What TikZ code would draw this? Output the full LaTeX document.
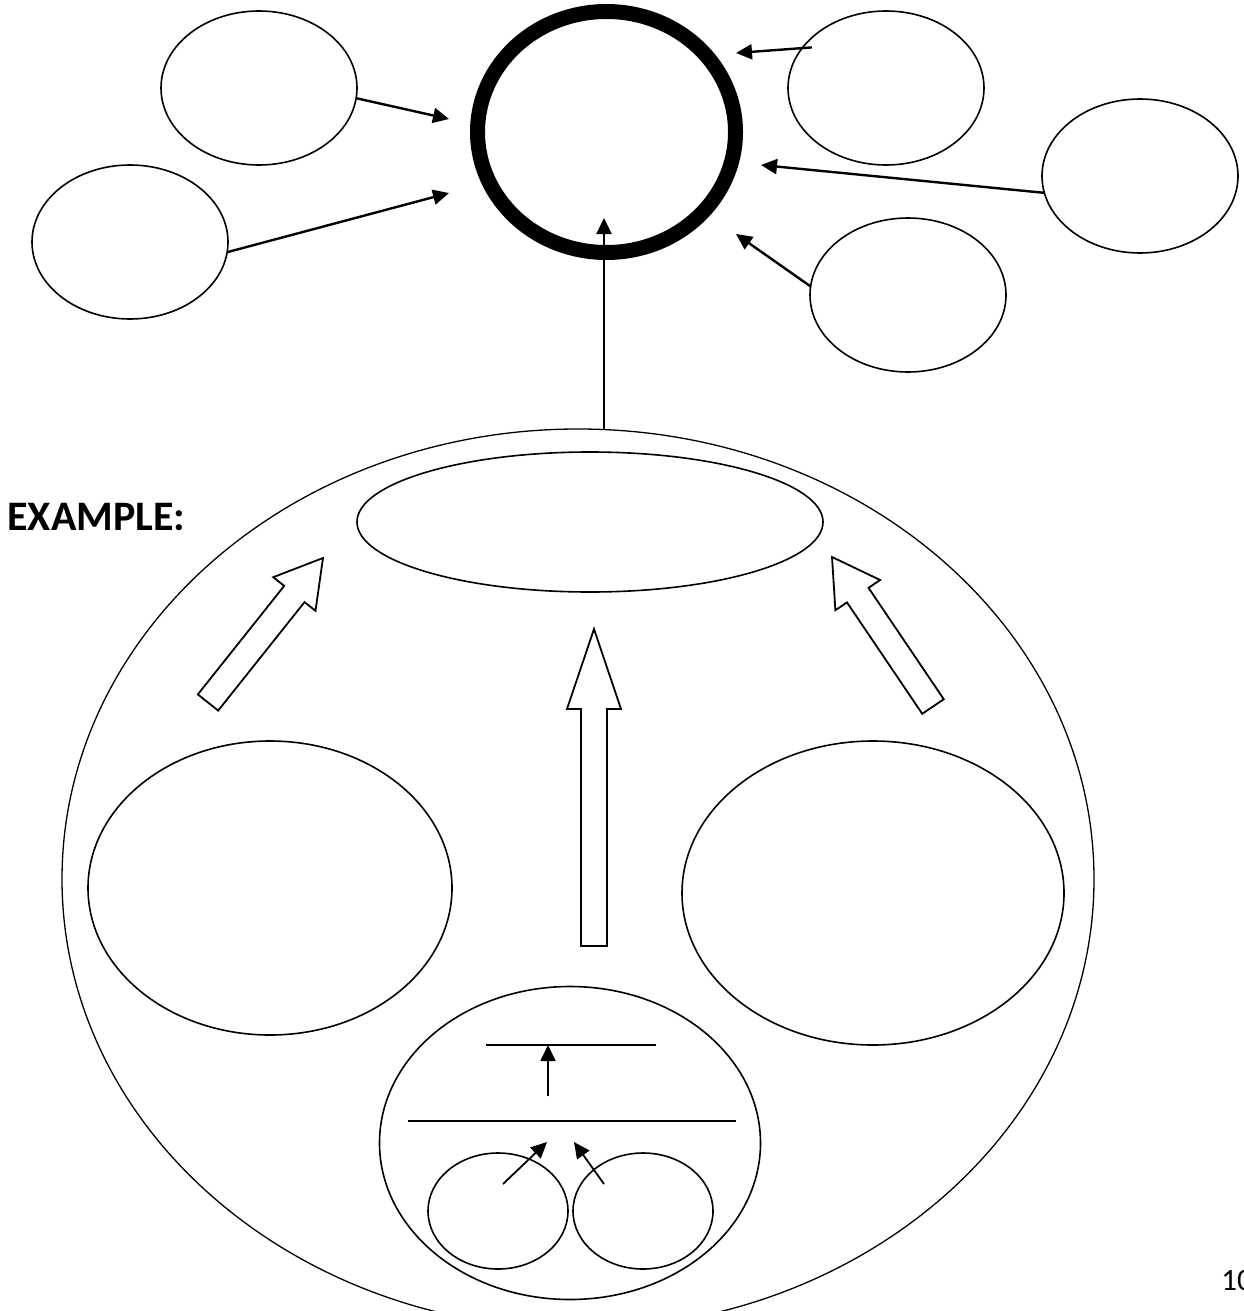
\documentclass[tikz,border=0pt]{standalone}
\usepackage{fontspec}
\setmainfont{Carlito}
\usetikzlibrary{arrows.meta,shapes.geometric,calc}

% hollow block arrow: foot, tip, head length
\newcommand{\fatarrow}[3]{%
  \coordinate (#1-neck) at ($(#2)!#3!(#1)$);
  \draw[fat] ($(#1)!6.5pt!90:(#2)$) -- ($(#1-neck)!6.5pt!90:(#2)$)
    -- ($(#1-neck)!13.5pt!90:(#2)$) -- (#2)
    -- ($(#1-neck)!13.5pt!-90:(#2)$) -- ($(#1-neck)!6.5pt!-90:(#2)$)
    -- ($(#1)!6.5pt!-90:(#2)$) -- cycle;}

\begin{document}
\begin{tikzpicture}[
    x=0.5pt, y=-0.5pt,
    bubble/.style={
      draw,
      ellipse,
      inner sep=0pt,
      outer sep=0pt,
      minimum width=98pt,
      minimum height=77pt,
      line width=0.8pt
    },
    conn/.style={line width=1.2pt,-{Triangle[length=8pt,width=7.5pt]}},
    fat/.style={line width=0.9pt,line join=miter},
    rule/.style={line width=0.8pt}
  ]
    \useasboundingbox (0,0) rectangle (1243,1311);

    % top cluster
    \node[bubble,minimum width=129pt,minimum height=120.5pt,line width=7.5pt] (hub) at (606.5,132) {};
    \node[bubble] (topleft) at (259,88) {};
    \node[bubble] (farleft) at (130,242) {};
    \node[bubble] (topright) at (886,88) {};
    \node[bubble] (farright) at (1140,176) {};
    \node[bubble] (lowright) at (908,295) {};
    \coordinate (tipA) at (449,119);
    \coordinate (tipB) at (449,193);
    \coordinate (tipC) at (736,53);
    \coordinate (tipD) at (761,165);
    \coordinate (tipE) at (736,234);
    \coordinate (uptip) at (604,218);
    \draw[conn] (topleft.-6) -- (tipA);
    \draw[conn] (farleft.-6) -- (tipB);
    \draw[conn] ([xshift=4.5pt]topright.154) -- (tipC);
    \draw[conn] (farright.190) -- (tipD);
    \draw[conn] (lowright.175) -- (tipE);

    % lower frame
    \node[bubble,minimum width=516pt,minimum height=450pt,line width=0.65pt] (frame) at (578,879) {};
    \draw[conn] (frame.north -| uptip) -- (uptip);
    \node[bubble,minimum width=233pt,minimum height=70pt] (goal) at (590,522) {};
    \node[bubble,minimum width=182pt,minimum height=147pt] (sideL) at (270,888) {};
    \node[bubble,minimum width=191pt,minimum height=152pt] (sideR) at (873,893) {};

    \coordinate (leftfoot) at (208,702.5);
    \coordinate (lefttip) at (323,558);
    \coordinate (midfoot) at (594,946);
    \coordinate (midtip) at (594,629);
    \coordinate (rightfoot) at (933,706.5);
    \coordinate (righttip) at (832,557);
    \fatarrow{leftfoot}{lefttip}{23pt}
    \fatarrow{midfoot}{midtip}{40pt}
    \fatarrow{rightfoot}{righttip}{23pt}

    % base
    \node[bubble,minimum width=190.5pt,minimum height=156.5pt] (base) at (570,1143) {};
    \node[bubble,minimum width=70pt,minimum height=58pt] (cellL) at (498,1211) {};
    \node[bubble,minimum width=70pt,minimum height=58pt] (cellR) at (643,1211) {};
    \draw[rule] (486,1045) coordinate (barS-w) -- (656,1045) coordinate (barS-e);
    \draw[rule] (408,1121) coordinate (barL-w) -- (736,1121) coordinate (barL-e);
    \coordinate (stemfoot) at (548,1096);
    \coordinate (footL) at (503,1184);
    \coordinate (footR) at (604,1184);
    \coordinate (tipL) at (547,1142);
    \coordinate (tipR) at (574,1142);
    \draw[conn,line width=0.9pt] (stemfoot) -- (stemfoot |- barS-w);
    \draw[conn,line width=0.9pt] (footL) -- (tipL);
    \draw[conn,line width=0.9pt] (footR) -- (tipR);

    % texts
    \node[font=\bfseries\fontsize{21}{25}\selectfont,anchor=base west,inner sep=0pt] (label) at (7,530) {EXAMPLE:};
    \node[font=\fontsize{15.5}{18}\selectfont,anchor=base west,inner sep=0pt] (pageno) at (1221,1290) {10};
  \end{tikzpicture}
\end{document}
